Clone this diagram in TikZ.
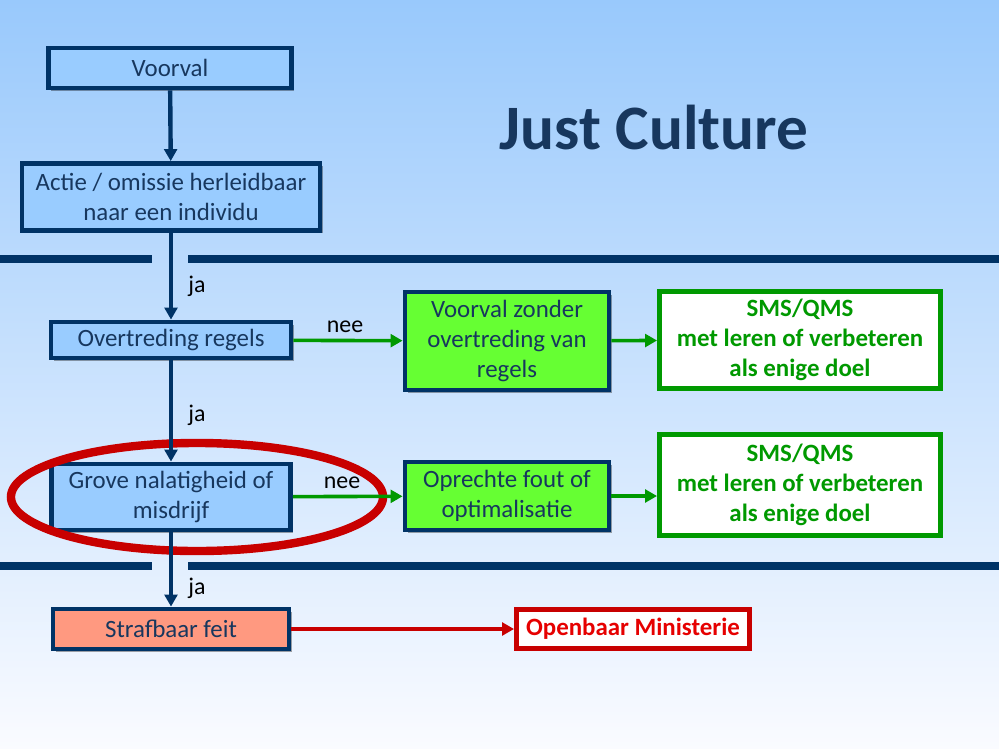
\documentclass[tikz,border=0pt]{standalone}
\usepackage{fontspec}
\setmainfont{Carlito}
\usetikzlibrary{arrows.meta,shapes.geometric,shadows}

\definecolor{navy}{RGB}{0,51,102}
\definecolor{navytext}{RGB}{23,55,94}
\definecolor{boxblue}{RGB}{153,204,255}
\definecolor{lightgreen}{RGB}{102,255,51}
\definecolor{darkgreen}{RGB}{0,153,0}
\definecolor{salmon}{RGB}{255,153,128}
\definecolor{darkred}{RGB}{200,0,0}
\definecolor{textred}{RGB}{230,0,0}
\definecolor{bgtop}{RGB}{153,201,252}
\definecolor{bgbottom}{RGB}{250,251,255}

\begin{document}
\begin{tikzpicture}[x=0.025cm, y=-0.025cm,
    box/.style={rectangle, line width=0.12cm, inner sep=0pt, align=center, text=navytext,
        font=\fontsize{17.7}{21.2}\selectfont,
        drop shadow={shadow xshift=0.07cm, shadow yshift=-0.07cm, opacity=0.35, fill=black}},
    bluebox/.style={box, draw=navy, fill=boxblue},
    greenbox/.style={box, draw=navy, fill=lightgreen},
    smsbox/.style={box, draw=darkgreen, fill=white, text=darkgreen, font=\fontsize{17.7}{21.5}\selectfont\bfseries},
    crimebox/.style={box, draw=navy, fill=salmon},
    ombox/.style={box, draw=darkred, fill=white, text=textred, font=\fontsize{17.7}{21}\selectfont\bfseries},
    flow/.style={-{Triangle[length=0.3cm, width=0.32cm]}, line width=0.11cm, draw=navy},
    goodflow/.style={-{Triangle[length=0.3cm, width=0.32cm]}, line width=0.09cm, draw=darkgreen},
    badflow/.style={-{Triangle[length=0.3cm, width=0.32cm]}, line width=0.09cm, draw=darkred},
    answer/.style={font=\fontsize{17}{19}\selectfont, text=black},
    divider/.style={line width=0.18cm, draw=navy}]

    % Background
    \fill[top color=bgtop, bottom color=bgbottom] (0,0) rectangle (999,749);
    \useasboundingbox (0,0) rectangle (999,749);

    % Title
    \node[font=\fontsize{45}{50}\selectfont\bfseries, text=navytext] (title) at (654,128) {Just Culture};

    % Dividers
    \draw[divider] (0,259) -- (152,259);
    \draw[divider] (188,259) -- (999,259);
    \draw[divider] (0,566) -- (152,566);
    \draw[divider] (188,566) -- (999,566);

    % Main chain
    \node[bluebox, minimum width=6.075cm, minimum height=1.0cm] (voorval) at (170,68) {Voorval};
    \node[bluebox, minimum width=7.45cm, minimum height=1.675cm] (actie) at (171,197) {Actie / omissie herleidbaar\\naar een individu};
    \node[bluebox, minimum width=6.0cm, minimum height=0.9cm] (overtreding) at (171,340) {Overtreding regels};
    \node[bluebox, minimum width=5.975cm, minimum height=1.65cm] (grove) at (171,497) {Grove nalatigheid of\\misdrijf};
    \node[crimebox, minimum width=5.9cm, minimum height=1.0cm] (strafbaar) at (171,629) {Strafbaar feit};

    % Side branches
    \node[greenbox, minimum width=5.1cm, minimum height=2.45cm] (zonder) at (507,341) {Voorval zonder\\overtreding van\\regels};
    \node[smsbox, minimum width=7.025cm, minimum height=2.425cm] (smsa) at (800,340) {SMS/QMS\\met leren of verbeteren\\als enige doel};
    \node[greenbox, minimum width=5.1cm, minimum height=1.7cm] (oprecht) at (507,496) {Oprechte fout of\\optimalisatie};
    \node[smsbox, minimum width=7.025cm, minimum height=2.525cm] (smsb) at (800,485) {SMS/QMS\\met leren of verbeteren\\als enige doel};
    \node[ombox, minimum width=5.825cm, minimum height=0.975cm] (om) at (633,629) {Openbaar Ministerie};

    % Highlight
    \node[ellipse, draw=darkred, line width=0.21cm, minimum width=9.3cm, minimum height=2.7cm] (focus) at (197,497) {};

    % Connections
    \draw[flow] (voorval) -- (actie);
    \draw[flow] (actie) -- (overtreding);
    \draw[flow] (overtreding) -- (grove);
    \draw[flow] (grove) -- (strafbaar);
    \draw[goodflow] (overtreding) -- (zonder);
    \draw[goodflow] (zonder) -- (smsa);
    \draw[goodflow] (grove) -- (oprecht);
    \draw[goodflow] (oprecht.east) -- (oprecht.east -| smsb.west);
    \draw[badflow] (strafbaar) -- (om);

    % Answers
    \node[answer] (ja1) at (197,286) {ja};
    \node[answer] (ja2) at (197,415) {ja};
    \node[answer] (ja3) at (197,588) {ja};
    \node[answer] (nee1) at (345,327) {nee};
    \node[answer] (nee2) at (342,483) {nee};
\end{tikzpicture}
\end{document}
